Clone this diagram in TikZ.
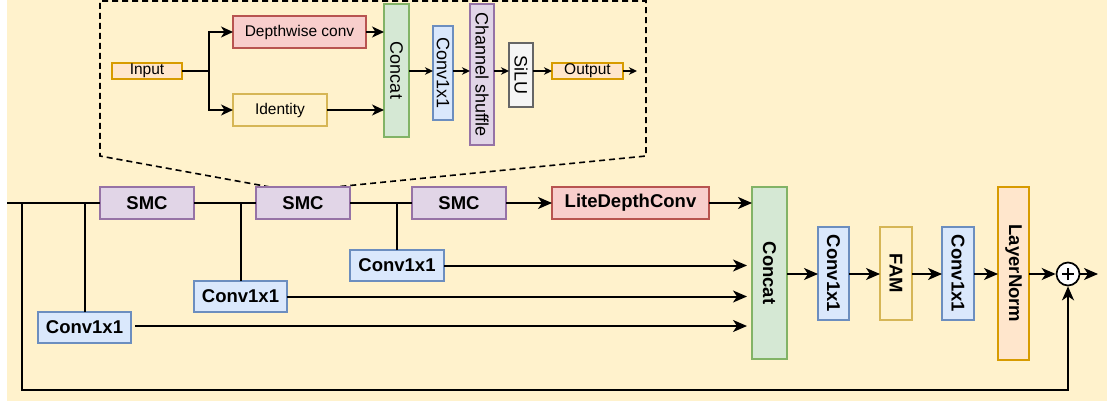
\documentclass[tikz,border=0pt]{standalone}
\usepackage{fontspec}
\setmainfont{Liberation Sans}
\usetikzlibrary{arrows.meta}
\definecolor{bg}{HTML}{FFF2CC}
\definecolor{purF}{HTML}{E1D5E7}\definecolor{purD}{HTML}{9673A6}
\definecolor{bluF}{HTML}{DAE8FC}\definecolor{bluD}{HTML}{6C8EBF}
\definecolor{redF}{HTML}{F8CECC}\definecolor{redD}{HTML}{B85450}
\definecolor{grnF}{HTML}{D5E8D4}\definecolor{grnD}{HTML}{82B366}
\definecolor{yelF}{HTML}{FFF2CC}\definecolor{yelD}{HTML}{D6B656}
\definecolor{orgF}{HTML}{FFE6CC}\definecolor{orgD}{HTML}{D79B00}
\definecolor{gryF}{HTML}{F5F5F5}\definecolor{gryD}{HTML}{666666}
\begin{document}
\begin{tikzpicture}[x=1pt,y=-1pt,
  box/.style={draw, line width=1.7pt, inner sep=0pt, outer sep=0pt},
  smc/.style={box, fill=purF, draw=purD},
  cnv/.style={box, fill=bluF, draw=bluD},
  lite/.style={box, fill=redF, draw=redD},
  cat/.style={box, fill=grnF, draw=grnD},
  fam/.style={box, fill=yelF, draw=yelD},
  lnorm/.style={box, fill=orgF, draw=orgD},
  gry/.style={box, fill=gryF, draw=gryD},
  mfont/.style={font=\fontsize{18.5}{20}\selectfont\bfseries},
  ifont/.style={font=\fontsize{15.5}{17}\selectfont},
  rfont/.style={font=\fontsize{18}{20}\selectfont},
  vtext/.style={rotate=-90, inner sep=0pt},
  mline/.style={line width=2pt},
  marr/.style={line width=2pt, -{Stealth[length=14pt,width=12pt,inset=4pt]}},
  iline/.style={line width=1.6pt},
  iarr/.style={line width=1.6pt, -{Stealth[length=12pt,width=11pt,inset=3.5pt]}},
  sarr/.style={line width=1.6pt, -{Stealth[length=8pt,width=7.5pt,inset=2.5pt]}},
  dashbox/.style={line width=1.6pt, dash pattern=on 6pt off 4pt}
]
\useasboundingbox (0,0) rectangle (1107,401);
\fill[bg] (7,0) rectangle (1107,401);

% ---------- inner (detail) diagram ----------
\draw[dashbox] (270,187) -- (100,156) -- (100,1) -- (646,1) -- (646,156) -- (335,187);

\node[box, fill=orgF, draw=orgD, minimum width=70, minimum height=16, ifont] (in1) at (147,71) {Input};
\node[lite, minimum width=133, minimum height=32, ifont] (dw) at (299.5,32) {Depthwise conv};
\node[fam, minimum width=94, minimum height=32, ifont] (id) at (280,110) {Identity};
\node[cat, minimum width=25, minimum height=133] (icat) at (396.5,70.5) {};
\node[vtext, rfont] (icatt) at (icat.center) {Concat};
\node[cnv, minimum width=20, minimum height=94] (ic1) at (443,73) {};
\node[vtext, rfont] (ic1t) at (ic1.center) {Conv1x1};
\node[smc, minimum width=24, minimum height=141] (ics) at (482,74.5) {};
\node[vtext, rfont] (icst) at (ics.center) {Channel shuffle};
\node[gry, minimum width=24, minimum height=64] (isilu) at (521,75) {};
\node[vtext, rfont] (isilut) at (isilu.center) {SiLU};
\node[box, fill=orgF, draw=orgD, minimum width=71, minimum height=16, ifont] (iout) at (587.5,71) {Output};
\coordinate (iend) at (637,71);
\coordinate (sp) at (209,71);

\draw[iline] (in1.east) -- (sp);
\draw[iarr] (sp) |- (dw.west);
\draw[iarr] (sp) |- (id.west);
\draw[iarr] (dw.east) -- (dw.east -| icat.west);
\draw[iarr] (id.east) -- (id.east -| icat.west);
\draw[sarr] (icat.east |- in1) -- (ic1.west |- in1);
\draw[sarr] (ic1.east |- in1) -- (ics.west |- in1);
\draw[sarr] (ics.east |- in1) -- (isilu.west |- in1);
\draw[sarr] (isilu.east |- in1) -- (iout.west);
\draw[sarr] (iout.east) -- (iend);

% ---------- main diagram ----------
\node[smc, minimum width=94, minimum height=32, mfont] (s1) at (147,203) {SMC};
\node[smc, minimum width=94, minimum height=32, mfont] (s2) at (303,203) {SMC};
\node[smc, minimum width=94, minimum height=32, mfont] (s3) at (459,203) {SMC};
\node[lite, minimum width=157, minimum height=32, mfont] (ldc) at (630.5,203) {LiteDepthConv};
\node[cnv, minimum width=93, minimum height=31, mfont] (ca) at (84.5,327.5) {Conv1x1};
\node[cnv, minimum width=93, minimum height=31, mfont] (cb) at (240.5,296.5) {Conv1x1};
\node[cnv, minimum width=94, minimum height=31, mfont] (cc) at (397,265.5) {Conv1x1};
\node[cat, minimum width=35, minimum height=172] (mcat) at (769.5,273) {};
\node[vtext, mfont] (mcatt) at (mcat.center) {Concat};
\node[cnv, minimum width=31, minimum height=93] (cd) at (833.5,273.5) {};
\node[vtext, mfont] (cdt) at (cd.center) {Conv1x1};
\node[fam, minimum width=32, minimum height=93] (fam) at (896,273.5) {};
\node[vtext, mfont] (famt) at (fam.center) {FAM};
\node[cnv, minimum width=32, minimum height=93] (ce) at (958,273.5) {};
\node[vtext, mfont] (cet) at (ce.center) {Conv1x1};
\node[lnorm, minimum width=31, minimum height=173] (ln) at (1013.5,273.5) {};
\node[vtext, mfont] (lnt) at (ln.center) {LayerNorm};
\node[circle, draw, line width=1.7pt, fill=white, minimum size=23, inner sep=0pt,
  path picture={\draw[line width=1.4pt] (path picture bounding box.center) +(-6pt,0pt) -- +(6pt,0pt)
     (path picture bounding box.center) +(0pt,-6pt) -- +(0pt,6pt);}] (add) at (1068,274) {};
\coordinate (mend) at (1098,274);
\coordinate (in0) at (7,203);
\coordinate (b0) at (22,203);
\coordinate (bot) at (0,390);

\draw[mline] (in0) -- (s1.west);
\draw[mline] (s1.east) -- (s2.west);
\draw[mline] (s2.east) -- (s3.west);
\draw[marr] (s3.east) -- (ldc.west);
\draw[marr] (ldc.east) -- (ldc.east -| mcat.west);
\draw[mline] (ca.north) -- (ca.north |- s1.west);
\draw[mline] (cb.north) -- (cb.north |- s1.west);
\draw[mline] (cc.north) -- (cc.north |- s1.west);
\draw[marr, shorten >=5pt] (cc.east) -- (cc.east -| mcat.west);
\draw[marr, shorten >=5pt] (cb.east) -- (cb.east -| mcat.west);
\draw[marr, shorten >=5pt, shorten <=4pt] ([yshift=1.5pt]ca.east) -- ([yshift=1.5pt]ca.east -| mcat.west);
\draw[marr] (b0) -- (b0 |- bot) -| (add.south);
\draw[marr] (mcat.east |- add) -- (cd.west |- add);
\draw[marr] (cd.east |- add) -- (fam.west |- add);
\draw[marr] (fam.east |- add) -- (ce.west |- add);
\draw[marr] (ce.east |- add) -- (ln.west |- add);
\draw[marr] (ln.east |- add) -- (add.west);
\draw[marr] (add.east) -- (mend);
\end{tikzpicture}
\end{document}
